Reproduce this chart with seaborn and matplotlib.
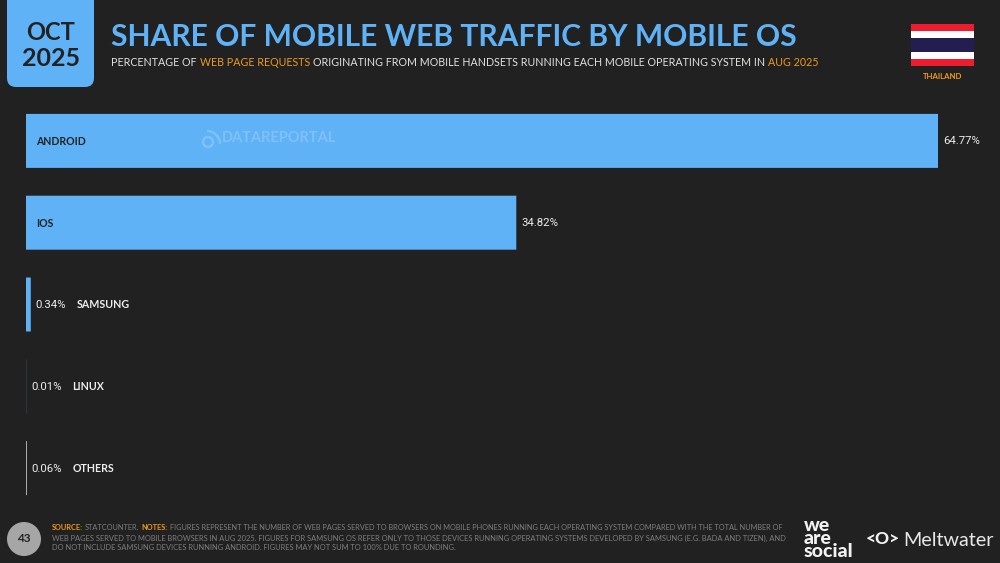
import matplotlib
matplotlib.use("Agg")
import matplotlib.pyplot as plt
from matplotlib.patches import FancyBboxPatch, Rectangle, Circle, Arc
from matplotlib.transforms import Affine2D
import pandas as pd
import seaborn as sns

categories = ["ANDROID", "IOS", "SAMSUNG", "LINUX", "OTHERS"]
shares = [64.77, 34.82, 0.34, 0.01, 0.06]
bar_colors = ["#5FB2F6", "#5FB2F6", "#5FB2F6", "#5FB2F6", "#C4C4C4"]

title = "SHARE OF MOBILE WEB TRAFFIC BY MOBILE OS"
subtitle_runs = [("PERCENTAGE OF", "w"), ("WEB PAGE REQUESTS", "o"),
                 ("ORIGINATING FROM MOBILE HANDSETS RUNNING EACH MOBILE OPERATING SYSTEM IN", "w"),
                 ("AUG 2025", "o")]
foot1 = [("SOURCE:", "b"), ("STATCOUNTER.", "g"), ("NOTES:", "b"),
         ("FIGURES REPRESENT THE NUMBER OF WEB PAGES SERVED TO BROWSERS ON MOBILE PHONES RUNNING EACH OPERATING SYSTEM COMPARED WITH THE TOTAL NUMBER OF", "g")]
foot2 = "WEB PAGES SERVED TO MOBILE BROWSERS IN AUG 2025. FIGURES FOR SAMSUNG OS REFER ONLY TO THOSE DEVICES RUNNING OPERATING SYSTEMS DEVELOPED BY SAMSUNG (E.G. BADA AND TIZEN), AND"
foot3 = "DO NOT INCLUDE SAMSUNG DEVICES RUNNING ANDROID. FIGURES MAY NOT SUM TO 100% DUE TO ROUNDING."

BG = "#212121"; BLUE = "#5FB2F6"; ORANGE = "#F09A1A"; DARK = "#222222"
FONT = "Lato"
sns.set_theme(style="dark")
plt.rcParams["font.family"] = [FONT, "DejaVu Sans"]

fig = plt.figure(figsize=(10, 5.63), dpi=100, facecolor=BG)
px = Affine2D().scale(1 / 1000, -1 / 563).translate(0, 1) + fig.transFigure
ax = fig.add_axes([0.026, 1 - 509 / 563, 0.912, 409 / 563])
ax.patch.set_alpha(0)

df = pd.DataFrame({"os": categories, "share": shares})
sns.barplot(data=df, x="share", y="os", hue="os", palette=bar_colors, legend=False,
            width=0.66, saturation=1, ax=ax, orient="h")
ax.set_xlim(0, max(shares))
ax.set_ylim(4.5, -0.5)
ax.axis("off")
for b in ax.patches:
    b.set_snap(False)
    b.set_linewidth(0)

r = fig.canvas.get_renderer()
for i, (c, v) in enumerate(zip(categories, shares)):
    t = ax.annotate(f"{v:.2f}%", (v, i), xytext=(5, -0.5), textcoords="offset pixels",
                    color="#EDEDED", fontsize=8.2, va="center", ha="left",
                    family="Roboto", annotation_clip=False)
    if v > 10:
        ax.annotate(c, (0, i), xytext=(10.5, -1), textcoords="offset pixels", color=DARK,
                    fontsize=7.6, fontweight="bold", va="center", ha="left", annotation_clip=False)
    else:
        e = t.get_window_extent(r)
        ax.annotate(c, (e.x1 + 10.5, (e.y0 + e.y1) / 2), xycoords="figure pixels",
                    color="#EDEDED", fontsize=7.7, fontweight="bold", va="center", ha="left")

# date tab
fig.add_artist(FancyBboxPatch((7, -30), 87, 117, boxstyle="round,pad=0,rounding_size=9",
                              fc=BLUE, ec="none", transform=px))
fig.text(51, 33, "OCT", transform=px, ha="center", va="center", color=DARK, fontsize=17, fontweight="bold")
fig.text(51, 58, "2025", transform=px, ha="center", va="center", color=DARK, fontsize=18, fontweight="bold")

fig.text(111, 37, title, transform=px, ha="left", va="center", color=BLUE, fontsize=21.6, fontweight="bold")


def runs(x, y, items, colors, weights, size, gap):
    for s, k in items:
        t = fig.text(x, y, s, transform=px, ha="left", va="center", color=colors[k],
                     fontsize=size, fontweight=weights.get(k, "normal"))
        x += t.get_window_extent(r).width + gap


runs(111, 62, subtitle_runs, {"w": "#E2E2E2", "o": ORANGE}, {}, 7.64, 3.0)
GREY = "#7E7E7E"
runs(52, 527, foot1, {"b": ORANGE, "g": GREY}, {"b": "bold"}, 5.34, 2.0)
fig.text(52, 538, foot2, transform=px, ha="left", va="center", color=GREY, fontsize=5.36)
fig.text(52, 548, foot3, transform=px, ha="left", va="center", color=GREY, fontsize=5.44)

# flag
for y0, h, col in [(24, 42, "#EE1C2E"), (31, 28, "#FFFFFF"), (38, 14, "#241D4F")]:
    fig.add_artist(Rectangle((911, y0), 63, h, fc=col, ec="none", transform=px))
fig.text(942.5, 76.5, "THAILAND", transform=px, ha="center", va="center", color=ORANGE, fontsize=5.6, fontweight="bold")

# watermark
fig.text(222, 138, "DATAREPORTAL", transform=px, ha="left", va="center", color="#7FC1F7", fontsize=10.5, fontweight="bold")
fig.add_artist(Circle((208, 142), 5, fc="none", ec="#7FC1F7", lw=1.8, transform=px))
fig.add_artist(Arc((207, 144), 26, 26, theta1=270, theta2=360, ec="#7FC1F7", lw=1.8, transform=px))

# page number
fig.add_artist(Circle((24, 539), 17, fc="#A6A6A6", ec="none", transform=px))
fig.text(24, 539, "43", transform=px, ha="center", va="center", color=DARK, fontsize=8.5, fontweight="bold")

# logos
fig.text(804, 560, "we\nare\nsocial", transform=px, ha="left", va="bottom", color="#F2F2F2",
         fontsize=14, fontweight="black", linespacing=0.7)
fig.text(866, 539.5, "<O>", transform=px, ha="left", va="center", color="#F2F2F2", fontsize=12.5, fontweight="black")
fig.text(903, 540, "Meltwater", transform=px, ha="left", va="center", color="#E8E8E8", fontsize=14.2)

fig.savefig("out.png", dpi=100, facecolor=BG)
